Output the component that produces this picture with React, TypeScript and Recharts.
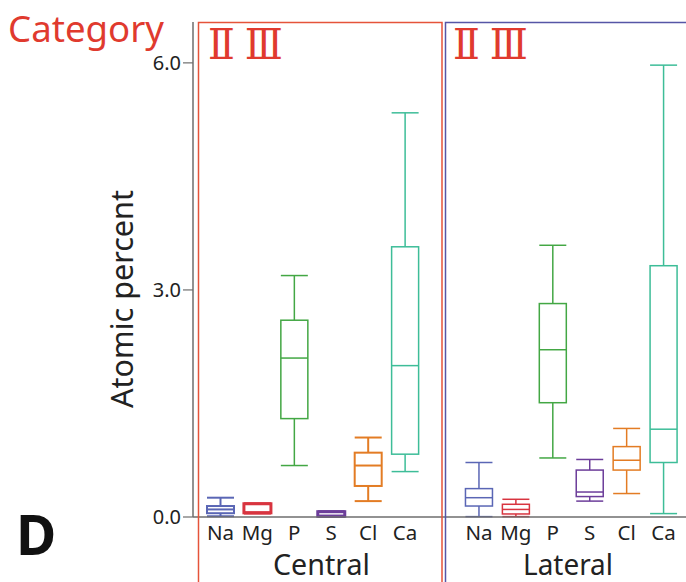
import React from 'react';
import { ComposedChart, Bar, XAxis, YAxis } from 'recharts';

const elements = ['Na', 'Mg', 'P', 'S', 'Cl', 'Ca'];
const elementColors = ['#5a66b5', '#d8343f', '#43a744', '#6c3d9a', '#e37c24', '#3dbd98'];

const centralMin = [0.01, 0.055, 0.68, 0.01, 0.21, 0.6];
const centralQ1 = [0.05, 0.055, 1.3, 0.01, 0.41, 0.83];
const centralMedian = [0.1, 0.055, 2.1, 0.01, 0.68, 2.0];
const centralQ3 = [0.145, 0.175, 2.6, 0.07, 0.85, 3.57];
const centralMax = [0.255, 0.175, 3.19, 0.07, 1.05, 5.34];
const centralStroke = [2, 3, 1.5, 3, 2, 1.5];

const lateralMin = [0.005, 0.005, 0.78, 0.21, 0.31, 0.045];
const lateralQ1 = [0.145, 0.04, 1.51, 0.27, 0.62, 0.72];
const lateralMedian = [0.255, 0.1, 2.21, 0.33, 0.75, 1.16];
const lateralQ3 = [0.375, 0.168, 2.82, 0.62, 0.93, 3.32];
const lateralMax = [0.72, 0.234, 3.59, 0.76, 1.17, 5.97];
const lateralStroke = [1.5, 1.5, 1.5, 1.5, 1.5, 1.5];

const yTicks = [0, 3, 6];
const yMax = 6.54;

type Row = {
  id: string;
  label: string;
  color: string;
  sw: number;
  min?: number;
  q1?: number;
  median?: number;
  q3?: number;
  max?: number;
};

const rows: Row[] = [];
elements.forEach((el, i) =>
  rows.push({
    id: 'c-' + el,
    label: el,
    color: elementColors[i],
    sw: centralStroke[i],
    min: centralMin[i],
    q1: centralQ1[i],
    median: centralMedian[i],
    q3: centralQ3[i],
    max: centralMax[i],
  })
);
rows.push({ id: 'gap', label: '', color: 'none', sw: 0 });
elements.forEach((el, i) =>
  rows.push({
    id: 'l-' + el,
    label: el,
    color: elementColors[i],
    sw: lateralStroke[i],
    min: lateralMin[i],
    q1: lateralQ1[i],
    median: lateralMedian[i],
    q3: lateralQ3[i],
    max: lateralMax[i],
  })
);

const labelById: Record<string, string> = {};
rows.forEach((r) => (labelById[r.id] = r.label));

const BoxShape = (props: any) => {
  const { x, y, width, height, payload } = props;
  if (!payload || payload.max == null) return null;
  const top = Math.min(y, y + height);
  const bottom = Math.max(y, y + height);
  const span = payload.max - payload.min;
  const pix = (v: number) => (span === 0 ? top : top + ((bottom - top) * (payload.max - v)) / span);
  const cx = x + width / 2;
  const pMax = pix(payload.max);
  const pMin = pix(payload.min);
  const pQ1 = pix(payload.q1);
  const pQ3 = pix(payload.q3);
  const pMed = pix(payload.median);
  return (
    <g stroke={payload.color} strokeWidth={payload.sw} fill="none">
      <line x1={cx} x2={cx} y1={pMax} y2={pQ3} />
      <line x1={cx} x2={cx} y1={pQ1} y2={pMin} />
      <line x1={x} x2={x + width} y1={pMax} y2={pMax} />
      <line x1={x} x2={x + width} y1={pMin} y2={pMin} />
      <rect x={x} y={pQ3} width={width} height={Math.max(0, pQ1 - pQ3)} fill="#ffffff" />
      <line x1={x} x2={x + width} y1={pMed} y2={pMed} />
    </g>
  );
};

const font = '"Noto Sans", "Open Sans", sans-serif';
const red = '#e03a2e';

export default function App() {
  return (
    <div style={{ position: 'absolute', left: 0, top: 0, width: 686, height: 582, background: '#fff' }}>
      <ComposedChart
        width={686}
        height={582}
        data={rows}
        margin={{ top: 22, right: 0, bottom: 35, left: 133 }}
        style={{ fontFamily: font }}
      >
        <XAxis
          dataKey="id"
          height={30}
          interval={0}
          padding={{ left: 9, right: 4 }}
          tickFormatter={(v: string) => labelById[v] ?? ''}
          tickLine={false}
          tickSize={6}
          tickMargin={2}
          axisLine={{ stroke: '#6e6e6e', strokeWidth: 1.5 }}
          tick={{ fill: '#222', fontSize: 20.5, fontFamily: font }}
        />
        <YAxis
          type="number"
          domain={[0, yMax]}
          ticks={yTicks}
          width={60}
          tickFormatter={(v: number) => v.toFixed(1)}
          tickSize={10}
          tickMargin={2}
          axisLine={{ stroke: '#6e6e6e', strokeWidth: 1.5 }}
          tickLine={{ stroke: '#6e6e6e', strokeWidth: 1.2 }}
          tick={{ fill: '#222', fontSize: 20, fontFamily: font }}
        />
        <Bar
          dataKey={(d: Row) => (d.max == null ? null : [d.min, d.max])}
          barSize={27}
          shape={BoxShape}
          isAnimationActive={false}
        />
      </ComposedChart>
      <svg
        width={686}
        height={582}
        style={{ position: 'absolute', left: 0, top: 0, pointerEvents: 'none' }}
      >
        <rect x={198.5} y={22.5} width={243.5} height={600} fill="none" stroke="#e5533a" strokeWidth={1.5} />
        <rect x={445.5} y={22.5} width={300} height={600} fill="none" stroke="#5656a6" strokeWidth={1.5} />
        <text x={8} y={42} fill={red} fontSize={37} fontFamily={font} textLength={156} lengthAdjust="spacingAndGlyphs">
          Category
        </text>
        <text
          x={208}
          y={59}
          fill={red}
          fontSize={42}
          fontFamily='"Liberation Serif", "DejaVu Serif", "Noto Sans CJK SC", serif'
          textLength={75}
          lengthAdjust="spacingAndGlyphs"
        >
          Ⅱ Ⅲ
        </text>
        <text
          x={453}
          y={59}
          fill={red}
          fontSize={42}
          fontFamily='"Liberation Serif", "DejaVu Serif", "Noto Sans CJK SC", serif'
          textLength={75}
          lengthAdjust="spacingAndGlyphs"
        >
          Ⅱ Ⅲ
        </text>
        <text x={16} y={555} fill="#111" fontSize={55} fontWeight="bold" fontFamily={font}>
          D
        </text>
        <text
          transform="translate(133, 299) rotate(-90)"
          x={0}
          y={0}
          textAnchor="middle"
          fill="#222"
          fontSize={30}
          fontFamily={font}
          textLength={218}
          lengthAdjust="spacingAndGlyphs"
        >
          Atomic percent
        </text>
        <text x={273} y={575} fill="#222" fontSize={29} fontFamily={font} textLength={97} lengthAdjust="spacingAndGlyphs">
          Central
        </text>
        <text x={523} y={575} fill="#222" fontSize={29} fontFamily={font} textLength={90} lengthAdjust="spacingAndGlyphs">
          Lateral
        </text>
      </svg>
    </div>
  );
}
